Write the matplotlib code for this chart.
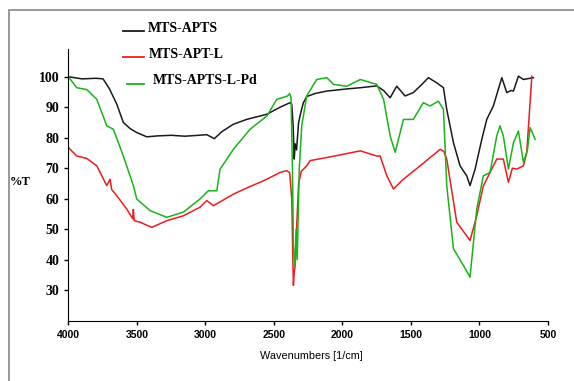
import matplotlib.pyplot as plt
from matplotlib.patches import Rectangle
from matplotlib.lines import Line2D

# FTIR spectra, values
wn_apts = [4000, 3900, 3800, 3747, 3700, 3647, 3599, 3550, 3501, 3428, 3350, 3250, 3150, 3050, 2990, 2960,
           2935, 2880, 2797, 2700, 2552, 2456, 2382, 2370, 2360, 2352, 2345, 2335, 2320, 2300, 2285, 2261,
           2200, 2114, 1969, 1870, 1750, 1700, 1652, 1604, 1543, 1483, 1420, 1373, 1312, 1263, 1239, 1190,
           1142, 1093, 1069, 1032, 983, 947, 899, 837, 801, 770, 752, 716, 680, 606]
t_apts = [100, 99.3, 99.5, 99.3, 96, 91, 85, 83, 81.7, 80.3, 80.6, 80.8, 80.5, 80.8, 81, 80.3,
          79.7, 82, 84.4, 86, 87.7, 90.0, 91.5, 91, 84, 73, 78, 76, 85, 89, 91.5, 93.5,
          94.5, 95.3, 96, 96.4, 97, 95.5, 93.1, 96.9, 93.7, 94.8, 97.5, 99.7, 98, 96.4, 89.3, 78.4,
          70.8, 67.5, 64.3, 69.7, 79.5, 86, 90.4, 99.7, 94.8, 95.5, 95.3, 100.2, 99.1, 99.7]

wn_aptl = [4000, 3939, 3866, 3793, 3720, 3696, 3684, 3647, 3574, 3530, 3526, 3520, 3477, 3392, 3282, 3161,
           3040, 2990, 2942, 2796, 2700, 2601, 2552, 2456, 2406, 2385, 2370, 2362, 2358, 2352, 2345, 2335,
           2320, 2300, 2285, 2261, 2236, 2114, 1870, 1750, 1725, 1676, 1628, 1555, 1433, 1287, 1260, 1239,
           1166, 1069, 1020, 972, 874, 826, 789, 760, 728, 679, 655, 618]
t_aptl = [76.8, 74, 73.2, 70.8, 64.3, 66.4, 63, 61, 56.6, 53.4, 56.5, 52.8, 52.3, 50.6, 52.8, 54.4,
          57.2, 59.4, 57.7, 61.5, 63.5, 65.4, 66.4, 68.6, 69.2, 68.5, 60, 40, 31.6, 36, 38, 50,
          65, 69, 69.7, 70.8, 72.5, 73.5, 75.7, 74, 74, 67.5, 63.2, 66.4, 70.8, 76.2, 75.5, 73,
          52.3, 46.3, 54.4, 64.2, 73, 73, 65.4, 70, 69.7, 70.8, 75.2, 100.2]

wn_pd = [4000, 3939, 3866, 3793, 3720, 3672, 3599, 3526, 3501, 3404, 3282, 3161, 3040, 2979, 2917, 2893,
         2796, 2674, 2552, 2479, 2400, 2385, 2375, 2365, 2358, 2350, 2346, 2338, 2330, 2315, 2297, 2261,
         2188, 2114, 2066, 1968, 1870, 1750, 1700, 1652, 1615, 1555, 1483, 1410, 1361, 1300, 1263, 1239,
         1190, 1117, 1069, 1020, 972, 923, 874, 850, 826, 789, 752, 716, 679, 650, 630, 594]
t_pd = [100, 96.4, 95.8, 92.6, 83.9, 82.8, 74, 64.3, 59.9, 56.1, 53.9, 55.6, 59.9, 62.6, 62.6, 69.7,
        76.2, 82.8, 87.1, 92.6, 93.7, 94.5, 93, 70, 45, 40, 38, 50, 40, 70, 83.9, 93.7,
        99.1, 99.7, 97.5, 96.9, 99.1, 97.5, 92.6, 80.6, 75.2, 86, 86, 91.5, 90.4, 92, 89.3, 64.3,
        43.6, 38.1, 34.3, 56.6, 67.5, 68.6, 80.6, 83.9, 80.6, 69.7, 78.4, 82.2, 71.9, 76, 83.3, 79.5]

labels = ["MTS-APTS", "MTS-APT-L", "MTS-APTS-L-Pd"]
colors = ["#1a1a1a", "#ee1c1c", "#18b418"]
xticks = [4000, 3500, 3000, 2500, 2000, 1500, 1000, 500]
yticks = [30, 40, 50, 60, 70, 80, 90, 100]

W, H = 574, 381
fig = plt.figure(figsize=(W / 100, H / 100), dpi=100)
ax = fig.add_axes([68.4 / W, 1 - 320.7 / H, (548 - 68.4) / W, (320.7 - 49.3) / H])

for wn, t, c in zip([wn_apts, wn_aptl, wn_pd], [t_apts, t_aptl, t_pd], colors):
    ax.plot(wn, t, color=c, lw=1.1)

ax.set_xlim(4000, 500)
ax.set_ylim(20, 109)
ax.set_xticks(xticks)
ax.set_yticks(yticks)
ax.spines['top'].set_visible(False)
ax.spines['right'].set_visible(False)
ax.tick_params(direction='out', length=3, width=1)
for lab in ax.get_yticklabels():
    lab.set_fontfamily('Liberation Serif')
    lab.set_fontweight('bold')
    lab.set_fontsize(10)
for lab in ax.get_xticklabels():
    lab.set_fontfamily('Liberation Sans')
    lab.set_fontweight('bold')
    lab.set_fontsize(7.5)

fig.text(311 / W, 1 - 356 / H, "Wavenumbers [1/cm]", ha='center', va='center',
         fontfamily='Liberation Sans', fontsize=7.8)
fig.text(10 / W, 1 - 182 / H, "%T", ha='left', va='center',
         fontfamily='Liberation Serif', fontweight='bold', fontsize=9)

# hand-placed legend
leg_y = [28, 54, 81]
leg_x0 = [123, 123, 127]
leg_tx = [148, 149, 153]
for lab, c, y, x0, tx in zip(labels, colors, leg_y, leg_x0, leg_tx):
    fig.add_artist(Line2D([x0 / W, 144 / W], [1 - (y + 2.5) / H] * 2, color=c, lw=1.3))
    fig.text(tx / W, 1 - y / H, lab, ha='left', va='center',
             fontfamily='Liberation Serif', fontweight='bold', fontsize=10)

# outer frame
fig.add_artist(Rectangle((9 / W, -0.1), 1.2, 1 - 10 / H + 0.1, transform=fig.transFigure,
                         fill=False, edgecolor='#888888', lw=1.2))

fig.savefig("out.png", dpi=100)
